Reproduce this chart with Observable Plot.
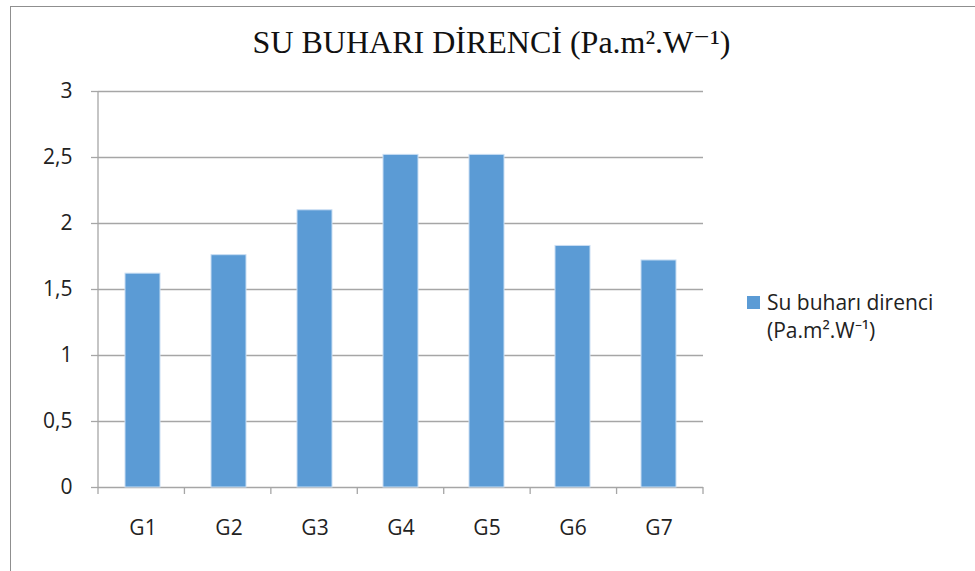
<!DOCTYPE html>
<html><head><meta charset="utf-8">
<script src="https://cdn.jsdelivr.net/npm/d3@7"></script>
<script src="https://cdn.jsdelivr.net/npm/@observablehq/plot@0.6"></script>
<style>
body{margin:0;background:#fff;}
#wrap{position:relative;width:975px;height:571px;overflow:hidden;background:#fff;}
#frame{position:absolute;left:10px;top:6px;width:1000px;height:620px;border:1px solid #8f8f8f;box-sizing:border-box;}
#chart{position:absolute;left:0;top:0;}
#title{position:absolute;left:0;width:983px;top:23px;text-align:center;font-family:"Liberation Serif","DejaVu Serif",serif;font-size:32px;color:#111;white-space:nowrap;}
#legend{position:absolute;left:747px;top:288px;font-family:"Open Sans",sans-serif;font-size:21px;color:#222;line-height:28px;}
#legend .sw{position:absolute;left:0;top:8px;width:13px;height:13px;background:#5b9bd5;}
#legend .tx{position:absolute;left:20px;top:0;white-space:nowrap;}
</style></head>
<body>
<div id="wrap">
  <div id="frame"></div>
  <div id="chart"></div>
  <div id="title"></div>
  <div id="legend"><div class="sw"></div><div class="tx"></div></div>
</div>
<script>
const titleText = "SU BUHARI DİRENCİ (Pa.m².W⁻¹)";
const groups = ["G1","G2","G3","G4","G5","G6","G7"];
const values = [1.62, 1.76, 2.10, 2.52, 2.52, 1.83, 1.72];
const yTicks = [0, 0.5, 1, 1.5, 2, 2.5, 3];
const legendLines = ["Su buharı direnci", "(Pa.m².W⁻¹)"];

const data = groups.map((g, i) => ({g, v: values[i]}));

document.getElementById("title").textContent = titleText;
document.querySelector("#legend .tx").innerHTML = legendLines.join("<br>");

const gridColor = "#a6a6a6";

const axisFrame = (index, scales, values, dims) => {
  const x0 = dims.marginLeft, x1 = dims.width - dims.marginRight;
  const step = (x1 - x0) / groups.length;
  const y = scales.y;
  const g = d3.create("svg:g").attr("stroke", gridColor).attr("stroke-width", 1.3);
  g.append("line").attr("x1", x0).attr("x2", x0).attr("y1", y(3)).attr("y2", y(0));
  for (let i = 0; i <= groups.length; i++) {
    const xx = x0 + i * step;
    g.append("line").attr("x1", xx).attr("x2", xx).attr("y1", y(0)).attr("y2", y(0) + 7);
  }
  return g.node();
};

const chart = Plot.plot({
  width: 975, height: 571,
  marginLeft: 98, marginRight: 272, marginTop: 91, marginBottom: 84,
  x: {domain: groups, paddingInner: 0.595, paddingOuter: 0.2975, label: null},
  y: {domain: [0, 3], label: null},
  style: {fontFamily: "'Open Sans', sans-serif", fontSize: "21px", color: "#222", background: "transparent"},
  marks: [
    Plot.gridY(yTicks, {stroke: gridColor, strokeOpacity: 1, strokeWidth: 1.3}),
    Plot.barY(data, {x: "g", y: "v", fill: "#5b9bd5", stroke: "#c9def3", strokeWidth: 1}),
    axisFrame,
    Plot.axisY(yTicks, {tickSize: 7, tickPadding: 19, tickFormat: d => String(d).replace(".", ","), stroke: gridColor, strokeWidth: 1.3, fill: "#222", fontSize: 21}),
    Plot.axisX({tickSize: 0, tickPadding: 33, fill: "#222", fontSize: 21})
  ]
});
document.getElementById("chart").appendChild(chart);
</script>
</body></html>
